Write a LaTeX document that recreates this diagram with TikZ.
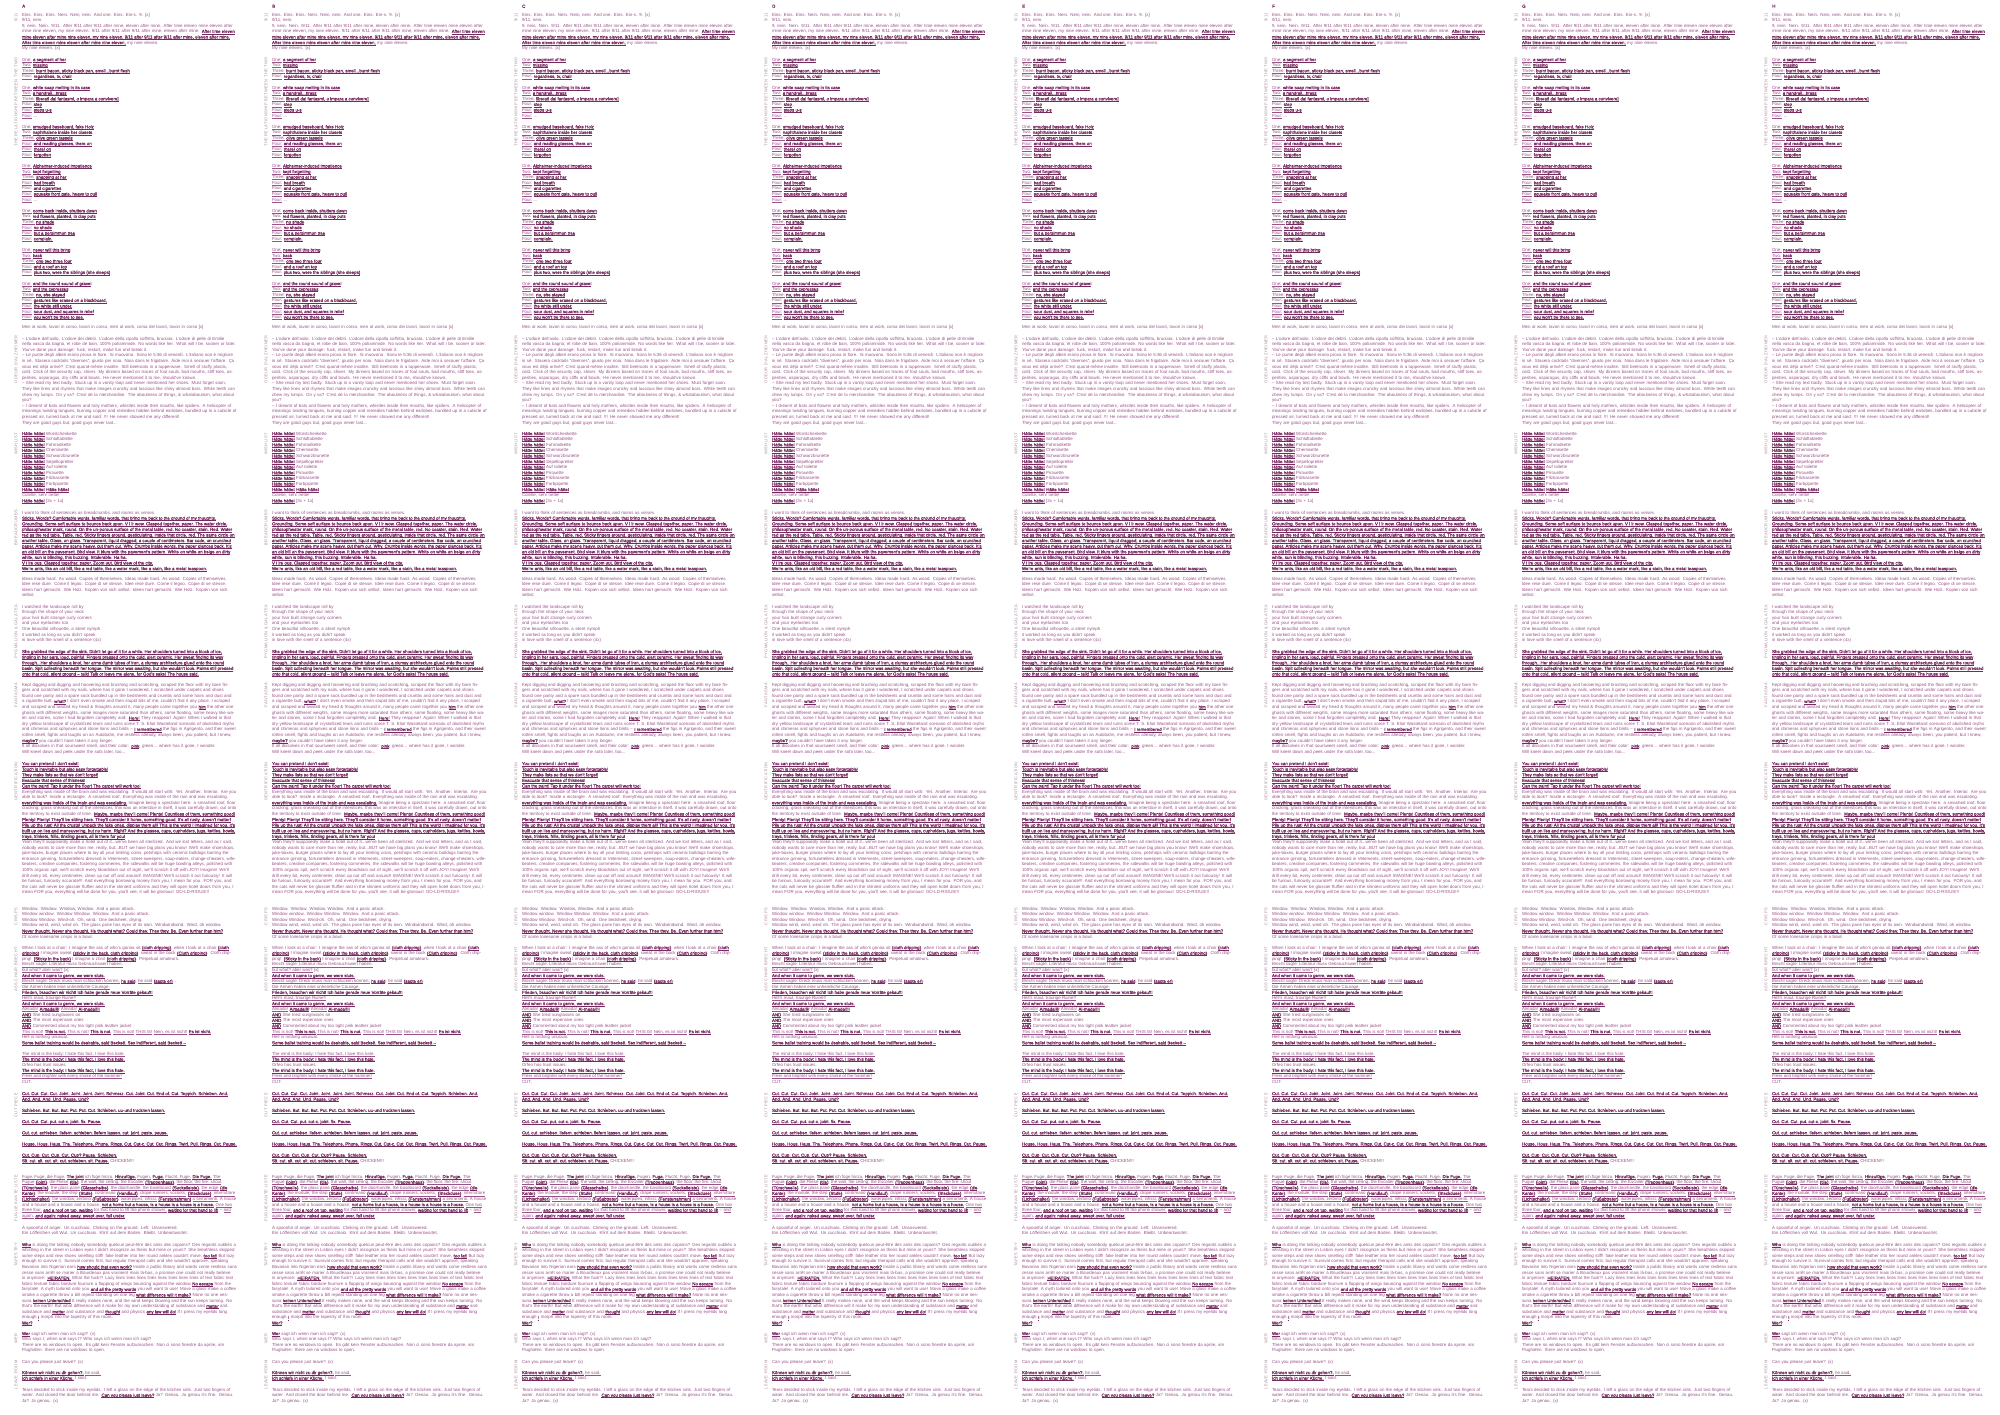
\documentclass[tikz,border=0pt]{standalone}
\usepackage{fontspec}
\setmainfont{Liberation Sans}[BoldFont={Liberation Sans},BoldFeatures={FakeBold=0.8}]
\newfontfamily\labfam[LetterSpace=10]{Liberation Sans}
\definecolor{txt}{HTML}{9A5289}
\definecolor{txtb}{HTML}{76295F}
\definecolor{lab}{HTML}{A88A9F}
\newcommand\bodyfont{\fontsize{4.4}{5.6}\selectfont}
\newcommand\labfont{\labfam\fontsize{4}{4.2}\selectfont}
\makeatletter
\newbox\ulbox
\def\ulend{}
\def\ulword#1{\setbox\ulbox\hbox{#1}\rlap{\vrule height -0.75pt depth 1.05pt width \wd\ulbox}\box\ulbox}
\def\ulspace{\leaders\hrule height -0.75pt depth 1.05pt\hskip\fontdimen2\font\relax}
\def\ulsplit#1 #2\ulend{\ulword{#1}\ifx\relax#2\relax\else\ulspace\ulsplit#2\ulend\fi}
\makeatother
\newcommand\uln[1]{\leavevmode\ulsplit#1 \ulend}
\newcommand\bu[1]{{\color{txtb}\bfseries\uln{#1}}}
\newcommand\gi[2]{\uln{#1:}~\bu{#2}}
\newcommand\hh{\bu{Hätte hätte!}}
\tikzset{
 body/.style={anchor=north west, inner sep=0pt, outer sep=0pt, text width=215pt, align=left, font=\bodyfont, text=txt, execute at begin node={\strut}},
 mlabel/.style={anchor=east, rotate=90, inner sep=0pt, font=\labfont, text=lab},
 colletter/.style={anchor=north west, inner sep=0pt, font=\bodyfont\bfseries, text=txtb}
}
\newcommand\tEins{Eins. Eins. Eins. Nein. Nein, nein. And one. Eins. Ein-s. 9. [x]\\ 9/11, nein.\\ 9, nein. Nein. 9/11. After 9/11 after 9/11 after mine, eleven after mine. After time eleven mine eleven after mine nine eleven, my nine eleven. 9/11 after 9/11 after 9/11 after mine, eleven after mine. \bu{After time eleven mine eleven after mine nine eleven, my nine eleven. 9/11 after 9/11 after 9/11 after mine, eleven after mine. After time eleven mine eleven after mine nine eleven,} my nine eleven.\\ My nine eleven. [x]}
\newcommand\tGroups{\gi{One}{a segment of her}\\ \gi{Two}{missing}\\ \gi{Three}{burnt bacon, sticky black pan, smell...burnt flesh}\\ \gi{Four}{regardless, tv, chair}\\[5.6pt]
\gi{One}{white soap melting in its case}\\ \gi{Two}{a handrail...brass}\\ \gi{Three}{liberati dai fantasmi, o impara a convivere]}\\ \gi{Four}{step}\\ \gi{Four}{steps u-s}\\ \uln{Four:} ...\\[5.6pt]
\gi{One}{smudged baseboard, fake Holz}\\ \gi{Two}{naphthalene inside her closets}\\ \gi{Three}{olive green tassels}\\ \gi{Four}{and reading glasses, there on}\\ \gi{Four}{there! on}\\ \gi{Four}{forgotten}\\[5.6pt]
\gi{One}{Alzheimer-induced impatience}\\ \gi{Two}{kept forgetting}\\ \gi{Three}{snapping at her}\\ \gi{Four}{bad breath}\\ \gi{Four}{and cigarettes}\\ \gi{Four}{squeaky front gate, heavy to pull}\\ \uln{Four:} ...\\[5.6pt]
\gi{One}{come back inside, shutters down}\\ \gi{Two}{red flowers, planted, in clay pots}\\ \gi{Three}{no shade}\\ \gi{Four}{no shade}\\ \gi{Four}{but a persimmon tree}\\ \gi{Four}{complain.}\\[5.6pt]
\gi{One}{never will this bring}\\ \gi{Two}{back}\\ \gi{Three}{one two three four}\\ \gi{Four}{and a roof on top}\\ \gi{Four}{plus two, were the siblings (she sleeps)}\\[5.6pt]
\gi{One}{and the round sound of gravel}\\ \gi{Two}{and the cypresses}\\ \gi{Three}{no, she stayed}\\ \gi{Four}{gestures like erased on a blackboard,}\\ \gi{Four}{the white still under,}\\ \gi{Four}{sour dust, and squares in relief}\\ \gi{Four}{you won't be there to see.}}
\newcommand\tMen{Men at work, lavori in corso, lavori in corsa, men at work, corsa dei lavori, lavori in corso [x]}
\newcommand\tOdore{– L'odore dell'asilo. L'odore dei debiti. L'odore della cipolla soffritta, bruciata. L'odore di pelle di Emilie nella vasca da bagno, et robe de bain, 100\% poliammide. No words like her. What will I be, sooner or later. You've done your damage: fuck, restart, make fun and break it.\\
– Le punte degli alberi erano prosa in fiore. Si muovono. Sono le 5:36 di venerdì. L'italiano non è migliore in sé. Stasera cocktails "diverses", giusto per noia. Noia dans le frigidaire. Aide moi à secouer l'affaire. Ça vous est déjà arrivé? C'est quand-même insolite. Still beetroots in a tupperware. Smell of stuffy plastic, cold. Click of the security cap, shiver. My dinners based on traces of foul souls, bad mouths, stiff toes, asperities, asparagus, dry cliffs and bowls. He never mentioned it to me, should've known.\\
– She read my text badly. Stuck up in a vanity loop and never mentioned her shoes. Must forget soon. They like lines and rhymes that make images crunchy and luscious like shiny almond bars. White teeth can chew my lumps. On y va? C'est de la merchandise. The aboutness of things, \& whataboutism, what about you?\\
– I dreamt of bats and flowers and holy mothers, whistles inside their mouths, like spiders. A helicopter of meanings twisting tongues, burning copper and remedies hidden behind earlobes, bundled up in a cubicle of pressed air, turned back at me and said: !!! He never showed me any different!\\
They are good guys but, good guys never last...}
\newcommand\tWish{\hh{} Würstchenkette\\ \hh{} Schlaftablette\\ \hh{} Fahrradkette\\ \hh{} Chemisette\\ \hh{} Schwarzbrunette\\ \hh{} Sepellopretter\\ \hh{} Auf toilette\\ \hh{} Pirouette\\ \hh{} Filzkassette\\ \hh{} Farbpipette\\ \hh{} \hh\\ Colette, sehr nette!\\ \hh{} [3x + 1x]}
\newcommand\tBread{I want to think of sentences as breadcrumbs, and rooms as verses.\\
\bu{Sticks. Words? Comfortable words, familiar words, that bring me back to the ground of my thoughts. Grounding. Some soft surface to bounce back upon. V i lr wow. Clasped together, paper. The water circle, philosophwater mark, round. On the un-porous surface of the metal table, red. No coaster, stain. Red. Water red as the red table. Table, red. Sticky fingers around, gesticulating, inside that circle, red. The same circle on another table. Glass, on glass. Transparent, liquid dragged, a couple of centimeters. Bar code, on crunched paper. Articles make my scene heavy, cut them out. Why. Crumbs inside words, the paper glances back. It's an old bill on the pavement. Bird view. It blurs with the pavement's pattern. White on white on beige on dirty white, sun is blinding, this buzzing. Intolerable. Ha ha.}\\
\bu{V i lre ous. Clasped together, paper. Zoom out. Bird view of the city.}\\
\bu{We're ants, like an old bill, like a red table, like a water mark, like a stain, like a metal teaspoon.}}
\newcommand\tIdeas{Ideas made hard. As wood. Copies of themselves. Ideas made hard. As wood. Copies of themselves. Idee rese dure. Come il legno. Copie di se stesse. Idee rese dure. Come il legno. Copie di se stesse. Ideen hart gemacht. Wie Holz. Kopien von sich selbst. Ideen hart gemacht. Wie Holz. Kopien von sich selbst.}
\newcommand\tPyg{I watched the landscape roll by\\ through the shape of your neck\\ your hair built strange curly corners\\ and your eyelashes too\\ One beautiful silhouette, a silent nymph\\ it worked as long as you didn't speak\\ in love with the smell of a sentence (4x)}
\newcommand\tSink{\bu{She grabbed the edge of the sink. Didn't let go of it for a while. Her shoulders turned into a block of ice, tingling in her ears, loud, painful. Fingers pressed onto the cold, alert ceramic. Her sweat finding its way through...Her shoulders a knot, her arms dumb tubes of iron, a clumsy architecture glued onto the round basin. Spit collecting beneath her tongue. The mirror was awaiting, but she wouldn't look. Palms still pressed onto that cold, silent ground – talk! Talk or leave me alone, for God's sake! The house said.}}
\newcommand\tKept{Kept digging and digging and hoovering and brushing and scratching, scraped the floor with my bare fingers and scratched with my nails, where has it gone I wondered, I scratched under carpets and shoes found one panty and a spare sock bundled up in the bedsheets and crumbs and some hairs and dust and a cigarette butt, \bu{what?} I don't even smoke and then stupid bits of me, couldn't find it any place, I scraped and scraped and twisted my head \& thoughts around it, many people came together you \bu{him} the other one ghosts with different weights, some images more saturated than others, some floating, some heavy like water and stones, some I had forgotten completely and: \bu{Here!} They reappear! Again! When I walked in that dry yellow landscape of crystallized tears and ruins some T. S. Eliot Wasteland scenario of abolished myths and chimeras and sphynxes and stone lions and birds – \bu{I remembered} the figs in Agrigento, and their sweet rotten smell, fights and laughs on an Autobahn, me restless already, always been, you patient, but I knew, \bu{maybe?} you couldn't have taken it any longer.\\
It all dissolves in that soursweet smell, and their color: \bu{pink}, green... where has it gone, I wonder.\\
Will kneel down and peek under the sofa later, too...}
\newcommand\tGent{\bu{You can pretend I don't exist!}\\ \bu{Touch is inevitable but also easy forgettable!}\\ \bu{They make lists so that we don't forget!}\\ \bu{Evacuate that sense of thisness!}\\ \bu{Can the paint! Tap it under the floor! The carpet will work too!}\\
Everything was inside of the brain and was escalating. It would all start with: Yet. Another. Interior. Are you able to look? Inside a rectangle. A smashed roof. Everything was inside of the rain and was escalating. \bu{everything was inside of the brain and was escalating.} Imagine being a spectator here: a smashed roof, floor cracking, grass sneaking out of the interstices, this was an interstice in itself, it was carefully drawn, out onto the territory to exist outside of time. \bu{Maybe, maybe they'll come! Plenty! Countless of them, something good! Plenty! Plenty! They'll be sitting here. They'll consider it home, something good. It's all rusty, doesn't matter! Pile up the rust! All the crusts! Unpack the fake ones, display them all! This is the world I imagined for you, it's built up on lies and maneuvering, but no harm. Right? And the glasses, cups, cupholders, jugs, kettles, bowls, trays, trinkets, frills, tinkling gears, all is there for you!}\\
Yeah they'll supposedly make a hotel out of it...we've been all sterilized. And we lost letters, and as I said, nobody wants to care more than me, really, but...BUT we have big plans you know! We'll make shoeshops, juke-boxes, burger places where to lay all your tinkling coins, petshops with ceramic bulldogs barring the entrance grinning, fortunetellers dressed in Vetements, street-sweepers, soup-eaters, change-cheaters, wife-beaters, creative companies, fostering cornmeries, the sidewalks will be huge bowling alleys, polished with 100\% organic spit, we'll scratch every bloodstain out of sight, we'll scratch it off with JOY! Imagine! We'll drill every bit, every centimeter, clean up out off and around! IMAGINE! We'll scratch it out furiously! It will be furious, furiously accurate!!! And everything borrowing money from you, I mean for you. FOR you, and the cats will never be glossier fluffier and in the shiniest uniforms and they will open hotel doors from you, I mean FOR you, everything will be done for you, you'll see, it will be glorious! GO-LD-RIOUS!!!}
\newcommand\tCrisps{Window. Window. Window, Window. And a panic attack.\\ Window window. Window Window. Window. And a panic attack.\\ Window Window. Wind-oh. Oh, wind. One bedsheet, drying.\\ Window wind, wind, wind oh. The glass pane has eyes of its own. Windwindwind. Wind, oh window.\\ \bu{Never thought. Never she thought. He thought what? Could they. They they. Be. Even further than him?}\\ Of some lonesome crisps in a bowl.}
\newcommand\tChair{When I look at a chair: I imagine the ass of who's gonna sit \bu{(cloth dripping)}, when I look at a chair \bu{(cloth dripping)} I imagine sweat \bu{(sticky in the back, cloth dripping)}, sweat in the back \bu{(Cloth dripping)}. Cloth dripping! \bu{(Sticky in the back)} I imagine a chair \bu{(cloth dripping)}. Perpetual amateurs.\\
\uln{Brecht sagte: Literatur muss Gebrauchswert haben.}\\
\uln{but what? aber was?} [x]\\
\bu{And when it came to genre, we were sluts.}\\
\uln{Brecht sagte: Dreck muss man schlucken können,} \bu{he said}, \uln{he said} \bu{(sagte er)}.\\
\uln{Die Armen haben eine unheimliche Courage.}\\
\bu{Frieden, brauchen wir nicht! Ich habe gerade neue Vorräte gekauft!}\\
\uln{Hell's maul, traurige Ruine!!}\\
\bu{And when it came to genre, we were sluts.}\\
\uln{Almada!} \bu{Almada!!!!} \uln{Almada!} \bu{Al-mada!!!!}\\
\bu{AND} She tried sunglasses on\\
\bu{AND} The most expensive ones\\
\bu{AND} Commented about my too tight pink leather jacket\\
\uln{This is not!} \bu{This is not.} \uln{This is not!} \bu{This is not.} \uln{This is not!} \uln{THIS IS!} \uln{Nein, es ist nicht!} \bu{Es ist nicht.}\\
Hell is nothing unusual.\\
\bu{Some ballet training would be desirable, said Beckett. Sex indifferent, said Beckett –}}
\newcommand\tMind{\uln{The mind is the body: I hate this fact, I love this hate.}\\ \bu{The mind is the body: I hate this fact, I love this hate.}\\ Orfeo has trust issues.\\ \bu{The mind is the body: I hate this fact, I love this hate.}\\ \uln{Freer and brighter with every shake of the hammer!}\\ CUT.}
\newcommand\tCut{\bu{Cut. Cut. Cut. Cut. Joint. Joint. Joint. Joint. Schmerz. Cut. Joint. Cut. End of. Cut. Teppich. Schieben. And. And. And. And. Und, Pause. Und?}\\[5.6pt]
\bu{Schieben. But. But. But. Put. Put. Cut. Schieben. uu-und trocknen lassen.}\\[5.6pt]
\bu{Cut. Cut. Cut. put. cut-c. joint. fix. Pause.}\\[5.6pt]
\bu{Cut. cut. schieben. liefern. schieben. liefern lassen. cut. joint. paste. pause.}\\[5.6pt]
\bu{House. Hous. Haus. The. Telephone. Phone. Rings. Cut. Cut-c. Cut. Cut. Rings. Twirl. Pull. Rings. Cut. Pause.}\\[5.6pt]
\bu{Cut. Cup. Cut. Cup. Cut. Cup? Pause. Schieben.}\\
\bu{Sit. cut. sit. cut. sit. cut. schieben. sit. Pause.} CHICKEN!!!}
\newcommand\tFugue{\uln{Fuge. Fuge, die Fuge.} \bu{The joint} \uln{ich füge hinzu.} \bu{Hinzufüge.} \uln{Fugen.} \bu{Fuga.} \uln{Flucht. Fuge.} \bu{Die Fuge.} \uln{The Fugue} \bu{(joint)}, \uln{die Fliese} \bu{(tile)}, \uln{the wall, the ceiling, the Escalier} \bu{(Treppenhaus)}, \uln{the floor, the fire: shout} \bu{(Türschwelle)}, \uln{the glass pane} \bu{(Glasscheibe)}, \uln{the doorhandle, the baseboard} \bu{(Sockelleiste)}, \uln{the edge} \bu{(die Kante)}, \uln{the module, the step} \bu{(Stufe)}, \uln{contrmano} \bu{(Handlauf)}, \uln{drape runners, sockets,} \bu{(Steckdose)}, \uln{interruttore} \bu{(Lichtschalter)}, \uln{the window, zerbino} \bu{(Fußabtreter)}, \uln{waterpipes, infissi,} \bu{(Fensterrahmen)} \uln{a serramenti.} A house and a house and a house and a house, \bu{not a home but a house, is a house is a house is a house.} \uln{One two three four,} \bu{and a roof on top, waiting} \uln{for that hand to lift the phone shower,} \bu{waiting for that hand to lift} – \uln{and again,} \bu{and again: naked away, swept over, fall under.}}
\newcommand\tSpoon{A spoonful of anger. Un cucchiaio. Clinking on the ground. Left. Unanswered.\\ Ein Löffelchen voll Wut. Un cucchiaio. Klirrt auf dem Boden. Bleibt. Unbeantwortet.}
\newcommand\tTap{\bu{Who} is doing the talking nobody somebody quelcun peut-être des amis des copains? Des regards oubliés a whistling in the street in Lisbon eyes I didn't recognize as theirs but mine or yours? She breathless skipped some steps and new shoes smelling stiff! fake leather into her round ankles couldn't move, \bu{too fat!} But lazy enough to survive it. Survival comes first, but regular therapist calls and she wouldn't approve, speaking Bavarian into Nigerian ears \bu{how should that even work?} Inside a public library and words come restless sans cesse sans arrêt se marier à Bourdeaux pas vraiment mais là-bas, a promise one could not really believe in anymore: \bu{HEIRATEN.} What the fuck?! Lazy lines lines lines lines lines lines lines lines of text fabric text fabric texture fabric bordure fourrure a flapping of wings bouncing against the window \bu{No escape} from the fairytale! A myth tailored onto you \bu{and all the pretty words} you will want to use! Move a glass make a coffee smoke a cigarette throw a bill repeat standing on one leg \bu{what difference will it make?} None no one nessuna \bu{keinen Unterschied} It really makes none, and the wind keeps blowing and the sun keeps turning. No that's the earth! But what difference will it make for my own understanding of substance and \bu{matter} and substance and \bu{matter} and substance and \bu{thought} and physics \bu{any law will do!} If I press my eyelids long enough \bu{I} morph into the tapestry of this room.\\ \bu{Wer?}}
\newcommand\tWer{\bu{Wer} sagt ich wenn man ich sagt? (x)\\ Who says I, when one says I? Who says ich wenn man ich sagt?\\ There are no windows to open. Es gibt kein Fenster aufzumachen. Non ci sono finestre da aprire, am Flughafen: there are no windows to open.}
\newcommand\tLeave{Can you please just leave? (x)}
\newcommand\tKoen{\bu{Können wir nicht zu dir gehen?,} \uln{he said.}\\ \bu{Ich schlafe in einer Küche,} I said.}
\newcommand\tTears{Tears decided to stick inside my eyelids. I left a glass on the edge of the kitchen sink. Just two fingers of water. And closed the door behind me. \bu{Can you please just leave?} Ja? Genau. Ja genau it's fine. Genau. Ja? Ja genau. (x)}
\newcommand\drawcol[3]{%
 \node[colletter] (let-#3) at (#1,4.5) {#2};
 \node[body] (eins-#3) at (#1,12.2) {\tEins};
 \node[body] (grp-#3) at (#1,57.2) {\tGroups};
 \node[body] (men-#3) at (#1,324.2) {\tMen};
 \node[body] (odo-#3) at (#1,336.2) {\tOdore};
 \node[body] (wish-#3) at (#1,431.2) {\tWish};
 \node[body] (bread-#3) at (#1,510.2) {\tBread};
 \node[body] (ideas-#3) at (#1,576.2) {\tIdeas};
 \node[body] (pyg-#3) at (#1,604.2) {\tPyg};
 \node[body] (sink-#3) at (#1,649.2) {\tSink};
 \node[body] (kept-#3) at (#1,682.2) {\tKept};
 \node[body] (gent-#3) at (#1,761.2) {\tGent};
 \node[body] (crisp-#3) at (#1,906.2) {\tCrisps};
 \node[body] (chair-#3) at (#1,945.2) {\tChair};
 \node[body] (mind-#3) at (#1,1051.2) {\tMind};
 \node[body] (cut-#3) at (#1,1091.2) {\tCut};
 \node[body] (fugue-#3) at (#1,1174.2) {\tFugue};
 \node[body] (spoon-#3) at (#1,1225.2) {\tSpoon};
 \node[body] (tap-#3) at (#1,1242.2) {\tTap};
 \node[body] (wer-#3) at (#1,1331.2) {\tWer};
 \node[body] (leave-#3) at (#1,1359.2) {\tLeave};
 \node[body] (koen-#3) at (#1,1370.2) {\tKoen};
 \node[body] (tears-#3) at (#1,1387.2) {\tTears};
 \node[mlabel] (m1-#3) at (#1-6,13) {9/11};
 \node[mlabel] (m2-#3) at (#1-6,57) {THE RELATIONSHIP BETWEEN THE TWO};
 \node[mlabel] (m3-#3) at (#1-6,335) {ODEUR D'ALZHEIMER};
 \node[mlabel] (m4-#3) at (#1-6,433) {WISHLIST};
 \node[mlabel] (m5-#3) at (#1-6,510) {BREADCRUMBS};
 \node[mlabel] (m6-#3) at (#1-6,605) {PYGMALION \& GALATEA};
 \node[mlabel] (m7-#3) at (#1-6,683) {FANTASMA};
 \node[mlabel] (m8-#3) at (#1-6,762) {GENTRIFICATION};
 \node[mlabel] (m9-#3) at (#1-6,908) {CRISPS};
 \node[mlabel] (m10-#3) at (#1-6,947) {ASS CHAIR BRECHT};
 \node[mlabel] (m11-#3) at (#1-6,1093) {CUT PIECE};
 \node[mlabel] (m12-#3) at (#1-6,1175) {FUGUE KANTE LISTE};
 \node[mlabel] (m13-#3) at (#1-6,1243) {TAPESTRY};
 \node[mlabel] (m14-#3) at (#1-6,1333) {WER};
 \node[mlabel] (m15-#3) at (#1-6,1360) {LEAVE ROOM};
}
\begin{document}
\begin{tikzpicture}[x=1pt,y=-1pt]
\useasboundingbox (0,0) rectangle (2000,1414);
\fill[white] (0,0) rectangle (2000,1414);
\foreach \i/\L in {0/A,1/B,2/C,3/D,4/E,5/F,6/G,7/H}{
 \pgfmathsetmacro\cx{22+250*\i}
 \drawcol{\cx}{\L}{\i}
}
\end{tikzpicture}
\end{document}
